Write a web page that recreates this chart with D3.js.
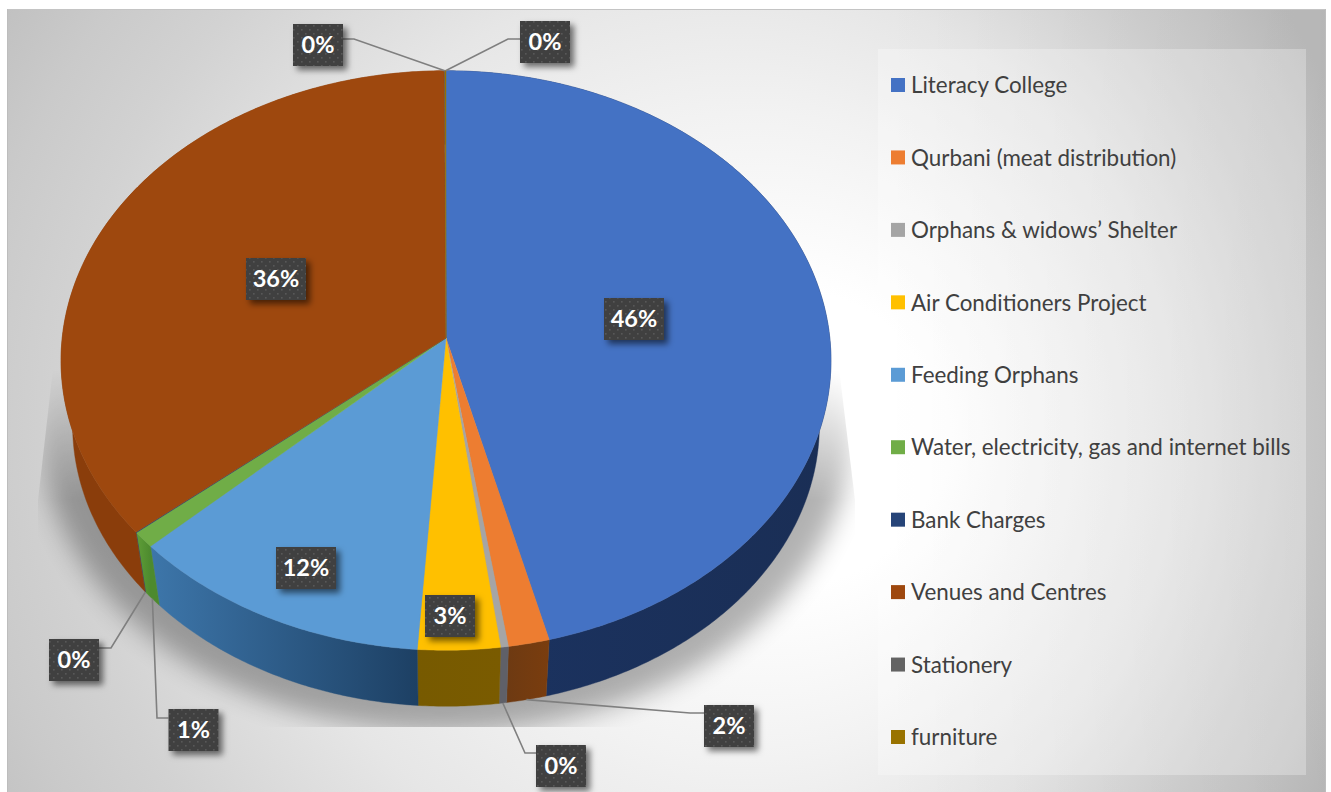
<!DOCTYPE html>
<html><head><meta charset="utf-8">
<script src="https://cdn.jsdelivr.net/npm/d3@7/dist/d3.min.js"></script>
<style>html,body{margin:0;padding:0;background:#fff;overflow:hidden}svg{display:block}</style>
</head><body><svg id="c" width="1331" height="792"></svg>
<script>
// ---- data ----
const categories = ["Literacy College","Qurbani (meat distribution)","Orphans & widows’ Shelter","Air Conditioners Project","Feeding Orphans","Water, electricity, gas and internet bills","Bank Charges","Venues and Centres","Stationery","furniture"];
const shares = [46.0,1.6,0.3,3.2,11.9,0.9,0.03,36.0,0.03,0.04];
const topColors = ["#4472c4","#ed7d31","#a5a5a5","#ffc000","#5b9bd5","#70ad47","#264478","#9e480e","#636363","#997300"];
const sideColors = [["#1b3361","#1a2e55"],["#6e3a12","#7a3d0e"],["#5f6068","#5f6068"],["#775a00","#7a5b00"],["#3d76aa","#1d4064"],["#5f9e38","#4d8a2e"],["#264478","#264478"],["#8a3d0b","#8a3d0b"],["#636363","#636363"],["#806000","#806000"]];
// ---- layout ----
const apex={x:446,y:338};
const A=383.8,B=288,K=0.0777;          // perspective of the top face
const nadir={x:446,y:2517}, sideScale=0.97; // lower rim shrinks towards the nadir
const labelBoxes = [[634,319,60,42],[729,726,50,42],[561,766,50,42],[450,616,50,42],[306,568,60,42],[193.5,730,50,42],[74,660,50,42],[276,279,60,42],[318,45,50,42],[545,42,50,42]];
const elbows = [null,[690,713],[525,753],null,null,[157,718],[111,648],null,[354,39],[508,39]];

const svg=d3.select("#c"), defs=svg.append("defs");
const bg=defs.append("radialGradient").attr("id","bg").attr("gradientUnits","userSpaceOnUse")
  .attr("cx",640).attr("cy",430).attr("r",770).attr("fx",830).attr("fy",440);
[[0,"#ffffff"],[.19,"#ffffff"],[.42,"#f2f2f2"],[.6,"#e6e6e6"],[.8,"#d2d2d2"],[.9,"#cacaca"],[1,"#c0c0c0"]].forEach(s=>bg.append("stop").attr("offset",s[0]).attr("stop-color",s[1]));
const darken=defs.append("linearGradient").attr("id","darken").attr("x1",0).attr("x2",1).attr("y1",0).attr("y2",0);
darken.append("stop").attr("offset",0).attr("stop-color","#000").attr("stop-opacity",0);
darken.append("stop").attr("offset",1).attr("stop-color","#000").attr("stop-opacity",.05);
const blur=defs.append("filter").attr("id","pieShadow").attr("x","-20%").attr("y","-20%").attr("width","140%").attr("height","140%");
blur.append("feGaussianBlur").attr("stdDeviation",13);
defs.append("clipPath").attr("id","shadowClip").append("path").attr("d","M54,360L38,500V727H855V500L838,360Z");
const fade=defs.append("linearGradient").attr("id","fadeGrad").attr("gradientUnits","userSpaceOnUse").attr("x1",0).attr("x2",0).attr("y1",370).attr("y2",500);
fade.append("stop").attr("offset",0).attr("stop-color","#000");
fade.append("stop").attr("offset",1).attr("stop-color","#fff");
defs.append("mask").attr("id","shadowFade").attr("maskUnits","userSpaceOnUse").attr("x",0).attr("y",0).attr("width",1331).attr("height",792)
  .append("rect").attr("width",1331).attr("height",792).attr("fill","url(#fadeGrad)");
const ds=defs.append("filter").attr("id","boxShadow").attr("x","-30%").attr("y","-30%").attr("width","170%").attr("height","170%");
ds.append("feDropShadow").attr("dx",4).attr("dy",4).attr("stdDeviation",3).attr("flood-color","#000").attr("flood-opacity",.55);
const pat=defs.append("pattern").attr("id","dots").attr("width",8).attr("height",8).attr("patternUnits","userSpaceOnUse");
pat.append("rect").attr("width",8).attr("height",8).attr("fill","#404040");
[[1,1],[5,5]].forEach(p=>pat.append("rect").attr("x",p[0]).attr("y",p[1]).attr("width",1.6).attr("height",1.6).attr("fill","#585858"));

svg.append("rect").attr("x",7).attr("y",9).attr("width",1319).attr("height",783).attr("fill","url(#bg)");
svg.append("rect").attr("x",880).attr("y",9).attr("width",446).attr("height",783).attr("fill","url(#darken)");
svg.append("line").attr("x1",7).attr("x2",1326).attr("y1",9.5).attr("y2",9.5).attr("stroke","#c4c4c4");
svg.append("line").attr("x1",7.5).attr("x2",7.5).attr("y1",9).attr("y2",792).attr("stroke","#bdbdbd");
svg.append("line").attr("x1",1325.5).attr("x2",1325.5).attr("y1",9).attr("y2",792).attr("stroke","#bdbdbd");

// shadow beneath the pie
svg.append("g").attr("mask","url(#shadowFade)").append("g").attr("clip-path","url(#shadowClip)").append("ellipse")
  .attr("cx",446).attr("cy",430).attr("rx",405).attr("ry",302)
  .attr("fill","#000").attr("opacity",.3).attr("filter","url(#pieShadow)");

// pie projection: circle angle -> perspective point on rim
const rim=a=>{const u=Math.sin(a),v=Math.cos(a),w=1+K*v;return {x:apex.x+A*u/w,y:apex.y-B*v/w};};
const lower=p=>({x:nadir.x+sideScale*(p.x-nadir.x),y:nadir.y+sideScale*(p.y-nadir.y)});
const arcs=d3.pie().sort(null).value(d=>d)(shares);
const samples=(a0,a1)=>{const n=Math.max(2,Math.ceil((a1-a0)/0.01));return d3.range(n+1).map(i=>rim(a0+(a1-a0)*i/n));};
const line=d3.line().x(d=>d.x).y(d=>d.y);

// sides
arcs.forEach((d,i)=>{
  const pts=samples(d.startAngle,d.endAngle);
  const xs=pts.map(p=>p.x);
  const id="side"+i;
  const g=defs.append("linearGradient").attr("id",id).attr("gradientUnits","userSpaceOnUse")
    .attr("x1",d3.min(xs)).attr("x2",d3.max(xs)+.01).attr("y1",0).attr("y2",0);
  g.append("stop").attr("offset",0).attr("stop-color",sideColors[i][0]);
  g.append("stop").attr("offset",1).attr("stop-color",sideColors[i][1]);
  const poly=pts.concat(pts.slice().reverse().map(lower));
  svg.append("path").attr("d",line(poly)+"Z").attr("fill",`url(#${id})`).attr("stroke",`url(#${id})`).attr("stroke-width",.4);
});
// top faces
arcs.forEach((d,i)=>{
  const poly=[apex].concat(samples(d.startAngle,d.endAngle));
  svg.append("path").attr("d",line(poly)+"Z").attr("fill",topColors[i]).attr("stroke",topColors[i]).attr("stroke-width",.4);
});

// leader lines + labels
const pct=d3.format(".0%"), total=d3.sum(shares);
const lines=svg.append("g"), labels=svg.append("g");
arcs.forEach((d,i)=>{
  const [cx,cy,w,h]=labelBoxes[i];
  const mid=(d.startAngle+d.endAngle)/2, p=rim(mid);
  const anchor=Math.cos(mid)<0?lower(p):p;
  if(elbows[i]){
    const e=elbows[i], edge=e[0]<cx?cx-w/2:cx+w/2;
    lines.append("path").attr("fill","none").attr("stroke","#7f7f7f").attr("stroke-width",1.6)
      .attr("d",line([anchor,{x:e[0],y:e[1]},{x:edge,y:e[1]}]));
  }
  labels.append("rect").attr("x",cx-w/2).attr("y",cy-h/2).attr("width",w).attr("height",h)
    .attr("fill","url(#dots)").attr("filter","url(#boxShadow)");
  labels.append("text").attr("x",cx).attr("y",cy).attr("dy","0.36em").attr("text-anchor","middle")
    .attr("font-family","Lato, 'Open Sans', sans-serif").attr("font-weight",700).attr("font-size",23.5)
    .attr("fill","#fff").text(pct(shares[i]/total));
});

// legend
svg.append("rect").attr("x",878).attr("y",49).attr("width",428).attr("height",726).attr("fill","#fff").attr("fill-opacity",.28);
const legendY=d3.scalePoint().domain(categories).range([85,737]);
const lg=svg.append("g").selectAll("g").data(categories).join("g").attr("transform",d=>`translate(891,${legendY(d)})`);
lg.append("rect").attr("y",-7).attr("width",14).attr("height",14).attr("fill",(d,i)=>topColors[i]);
lg.append("text").attr("x",20).attr("y",.6).attr("dy","0.34em").attr("font-family","Lato, sans-serif").attr("font-size",22.4).attr("fill","#404040").text(d=>d);
</script></body></html>
